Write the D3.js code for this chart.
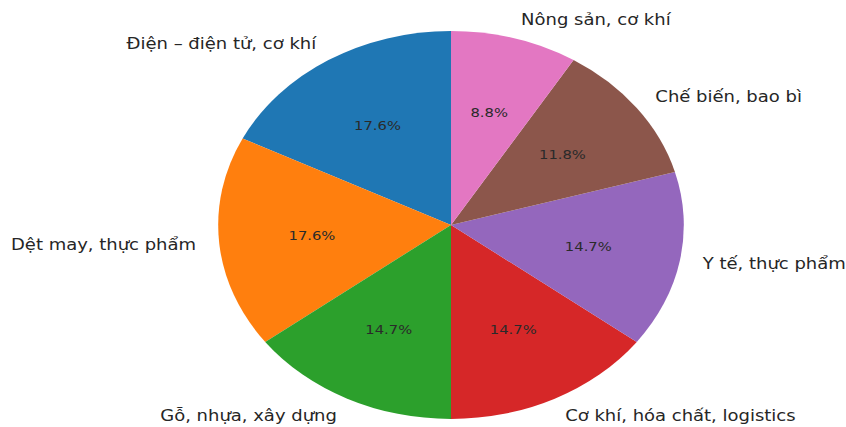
<!DOCTYPE html>
<html>
<head>
<meta charset="utf-8">
<script src="https://cdn.jsdelivr.net/npm/d3@7"></script>
<style>
  body { margin: 0; background: #fff; }
  text { font-family: "DejaVu Sans", sans-serif; }
</style>
</head>
<body>
<div id="chart"></div>
<script>
// Data
var labels = ["Điện – điện tử, cơ khí", "Dệt may, thực phẩm", "Gỗ, nhựa, xây dựng",
              "Cơ khí, hóa chất, logistics", "Y tế, thực phẩm", "Chế biến, bao bì", "Nông sản, cơ khí"];
var counts = [6, 6, 5, 5, 5, 4, 3];
var colors = ["#1f77b4", "#ff7f0e", "#2ca02c", "#d62728", "#9467bd", "#8c564b", "#e377c2"];

var width = 846;
var height = 427;
var radius = 194;

var svg = d3.select("#chart").append("svg")
    .attr("width", width)
    .attr("height", height);

// picture is stretched horizontally, so stretch the whole pie group
var g = svg.append("g")
    .attr("transform", "translate(451,225) scale(1.2,1)");

var total = d3.sum(counts);

// counter-clockwise from the top, like matplotlib startangle=90
var pie = d3.pie().sort(null).startAngle(0).endAngle(-2 * Math.PI);
var arcs = pie(counts);

var arc = d3.arc().innerRadius(0).outerRadius(radius);

g.selectAll("path")
    .data(arcs)
    .enter()
    .append("path")
    .attr("d", arc)
    .attr("fill", function(d, i) { return colors[i]; });

function mid(d) { return (d.startAngle + d.endAngle) / 2; }

// percentage labels at 0.6 r
g.selectAll("text.pct")
    .data(arcs)
    .enter()
    .append("text")
    .attr("class", "pct")
    .attr("x", function(d) { return 0.6 * radius * Math.sin(mid(d)); })
    .attr("y", function(d) { return -0.6 * radius * Math.cos(mid(d)); })
    .attr("dy", "0.35em")
    .attr("text-anchor", "middle")
    .style("font-size", "12.3px")
    .style("fill", "#2a2a2a")
    .text(function(d) { return (d.value / total * 100).toFixed(1) + "%"; });

// category labels at 1.1 r
g.selectAll("text.lbl")
    .data(arcs)
    .enter()
    .append("text")
    .attr("class", "lbl")
    .attr("x", function(d) { return 1.1 * radius * Math.sin(mid(d)); })
    .attr("y", function(d) { return -1.1 * radius * Math.cos(mid(d)); })
    .attr("dy", "0.35em")
    .attr("text-anchor", function(d) { return Math.sin(mid(d)) > 0 ? "start" : "end"; })
    .style("font-size", "15px")
    .style("fill", "#262626")
    .text(function(d, i) { return labels[i]; });
</script>
</body>
</html>
